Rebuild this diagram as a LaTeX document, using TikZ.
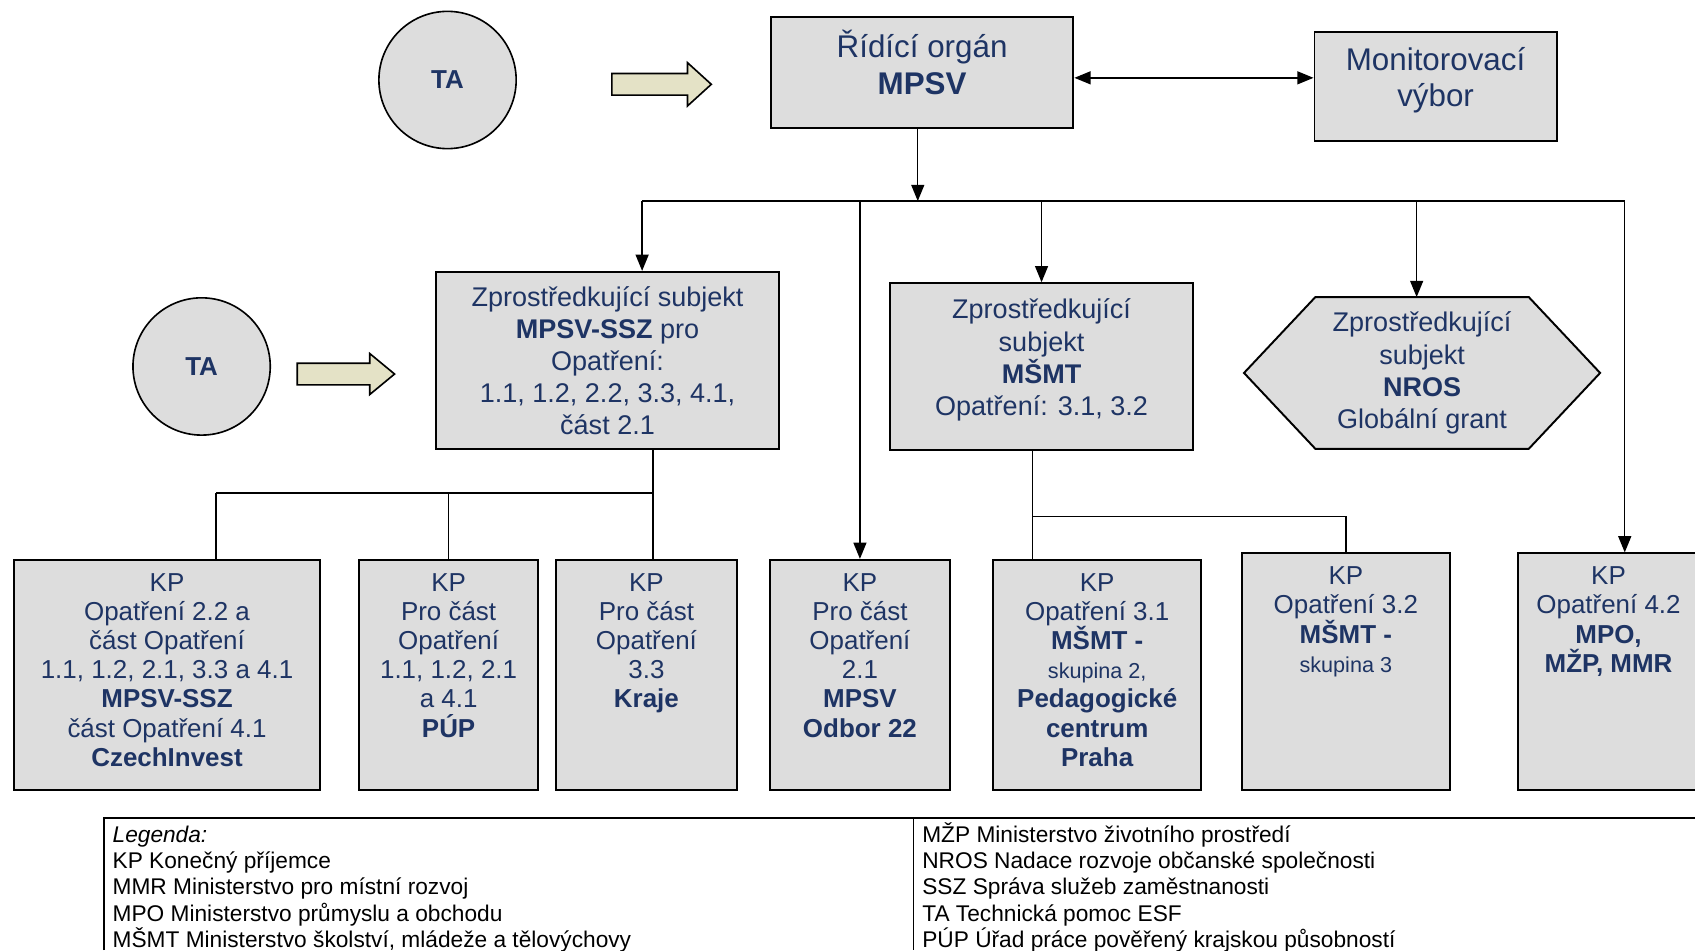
\documentclass[tikz,border=0pt]{standalone}
\usepackage{fontspec}
\setmainfont{Liberation Sans}
\usetikzlibrary{arrows.meta, positioning, calc, shapes, backgrounds}

\definecolor{navy}{RGB}{30,52,100}
\definecolor{boxgray}{RGB}{221,221,221}
\definecolor{beige}{RGB}{228,226,198}

% text of a KP box: width, height, lines
\newcommand{\kpcell}[3]{\parbox[c][#2][t]{#1}{\centering\rule{0pt}{29pt}#3}}
% text of a box set a little above its middle: width, height, lift, lines
\newcommand{\boxcell}[4]{\parbox[c][#2][c]{#1}{\centering #4\par\vspace*{#3}}}

\tikzset{
  box/.style={draw, fill=boxgray, line width=1.8pt, text=navy, align=center, inner sep=0pt, font=\fontsize{25}{29.7}\selectfont},
  hexbox/.style={text=navy, align=center, inner sep=0pt, font=\fontsize{25}{29.7}\selectfont, minimum width=329pt, minimum height=140pt},
  kpbox/.style={draw, fill=boxgray, line width=1.8pt, text=navy, inner sep=0pt, anchor=north, font=\fontsize{24}{27}\selectfont},
  ta/.style={ellipse, draw, fill=boxgray, line width=1.5pt, text=navy, font=\fontsize{24}{27}\selectfont\bfseries, minimum width=127pt, minimum height=127pt},
  blockarrow/.style={draw, fill=beige, line width=1.5pt, line join=miter},
  conn/.style={line width=1.3pt},
  arr/.style={conn, -{Triangle[length=15pt, width=12pt]}},
  dblarr/.style={conn, {Triangle[length=15pt, width=12pt]}-{Triangle[length=15pt, width=12pt]}},
  legtext/.style={anchor=base west, inner sep=0pt, font=\fontsize{21}{24}\selectfont}
}

\begin{document}
\begin{tikzpicture}[x=1pt, y=-1pt]
\useasboundingbox (0,0) rectangle (1568,879);

% top row
\node[ta] (TA1) at (414,74) {TA};
\draw[blockarrow] (566,68) -- (636,68) -- (636,58) -- (658,78) -- (636,98) -- (636,88) -- (566,88) -- cycle;
\node[box, font=\fontsize{29}{34}\selectfont] (RO) at (853,67) {\boxcell{280pt}{102pt}{19pt}{Řídící orgán\\ \textbf{MPSV}}};
\node[box, font=\fontsize{29}{33}\selectfont] (MV) at (1328,80) {\boxcell{224pt}{101pt}{11pt}{Monitorovací\\ výbor}};
\draw[dblarr] ([yshift=-5pt]RO.east) -- ([yshift=-5pt]RO.east -| MV.west);

% second row
\node[ta] (TA2) at (186.5,339) {TA};
\draw[blockarrow] (275,336) -- (342,336) -- (342,327) -- (365,346) -- (342,365) -- (342,356) -- (275,356) -- cycle;
\node[box, minimum width=318pt, minimum height=164pt] (ZS1) at (562,333.5) {Zprostředkující subjekt\\ \textbf{MPSV-SSZ} pro\\ Opatření:\\ 1.1, 1.2, 2.2, 3.3, 4.1,\\ část 2.1};
\node[box] (ZS2) at (963.5,339) {\boxcell{281pt}{154pt}{12pt}{Zprostředkující\\ subjekt\\ \textbf{MŠMT}\\ Opatření: 3.1, 3.2}};
\node[hexbox] (ZS3) at (1315.5,345) {Zprostředkující\\ subjekt\\ \textbf{NROS}\\ Globální grant};
\begin{scope}[on background layer]
\filldraw[fill=boxgray, line width=1.8pt] (ZS3.west) -- ($(ZS3.north west)+(66,0)$) -- ($(ZS3.north east)+(-66,0)$) -- (ZS3.east) -- ($(ZS3.south east)+(-66,0)$) -- ($(ZS3.south west)+(66,0)$) -- cycle;
\end{scope}

% KP boxes
\node[kpbox] (KP1) at (154.5,517) {\kpcell{283pt}{213pt}{KP\\ Opatření 2.2 a\\ část Opatření\\ 1.1, 1.2, 2.1, 3.3 a 4.1\\ \textbf{MPSV-SSZ}\\ část Opatření 4.1\\ \textbf{CzechInvest}}};
\node[kpbox] (KP2) at (415,517) {\kpcell{165pt}{213pt}{KP\\ Pro část\\ Opatření\\ 1.1, 1.2, 2.1\\ a 4.1\\ \textbf{PÚP}}};
\node[kpbox] (KP3) at (598,517) {\kpcell{168pt}{213pt}{KP\\ Pro část\\ Opatření\\ 3.3\\ \textbf{Kraje}}};
\node[kpbox] (KP4) at (795.5,517) {\kpcell{167pt}{213pt}{KP\\ Pro část\\ Opatření\\ 2.1\\ \textbf{MPSV}\\ \textbf{Odbor 22}}};
\node[kpbox] (KP5) at (1015,517) {\kpcell{192pt}{213pt}{KP\\ Opatření 3.1\\ \textbf{MŠMT -}\\ {\fontsize{20}{27}\selectfont skupina 2,}\\ \textbf{Pedagogické}\\ \textbf{centrum}\\ \textbf{Praha}}};
\node[kpbox] (KP6) at (1245,511) {\kpcell{192pt}{219pt}{KP\\ Opatření 3.2\\ \textbf{MŠMT -}\\ {\fontsize{20}{27}\selectfont skupina 3}}};
\node[kpbox] (KP7) at (1488,511) {\kpcell{168pt}{219pt}{KP\\ Opatření 4.2\\ \textbf{MPO,}\\ \textbf{MŽP, MMR}}};

% connectors from the managing body
\coordinate (busL) at (594,186);
\coordinate (busR) at (1503,186);
\draw[arr] ([xshift=-4pt]RO.south) -- ([xshift=-4pt]RO.south |- busL);
\draw[conn] (busL) -- (busR);
\draw[arr] (busL) -- (busL |- ZS1.north);
\draw[arr] (KP4.north |- busL) -- (KP4.north);
\draw[arr] (ZS2.north |- busL) -- (ZS2.north);
\draw[arr] ([xshift=-5pt]ZS3.north |- busL) -- ([xshift=-5pt]ZS3.north);
\draw[arr] (busR) -- (busR |- KP7.north);

% MPSV-SSZ tree
\coordinate (J1) at (604,456);
\coordinate (J1L) at (200,456);
\draw[conn] (J1 |- ZS1.south) -- (J1 |- KP3.north);
\draw[conn] (J1L) -- (J1);
\draw[conn] (J1L) -- (J1L |- KP1.north);
\draw[conn] (KP2.north |- J1) -- (KP2.north);

% MSMT tree
\coordinate (J2) at (955,478);
\draw[conn] (J2 |- ZS2.south) -- (J2 |- KP5.north);
\draw[conn] (J2) -- (J2 -| KP6.north) -- (KP6.north);

% legend
\draw[line width=1.6pt] (96,879) -- (96,757) -- (1570,757);
\draw[conn] (845,757) -- (845,879);
\foreach \txt [count=\i] in {{\textit{Legenda:}}, KP Konečný příjemce, MMR Ministerstvo pro místní rozvoj, MPO Ministerstvo průmyslu a obchodu, {MŠMT Ministerstvo školství, mládeže a tělovýchovy}}
  \node[legtext] (legL\i) at (104,755+24.3*\i) {\txt};
\foreach \txt [count=\i] in {MŽP Ministerstvo životního prostředí, NROS Nadace rozvoje občanské společnosti, SSZ Správa služeb zaměstnanosti, TA Technická pomoc ESF, PÚP Úřad práce pověřený krajskou působností}
  \node[legtext] (legR\i) at (853,755+24.3*\i) {\txt};
\end{tikzpicture}
\end{document}
